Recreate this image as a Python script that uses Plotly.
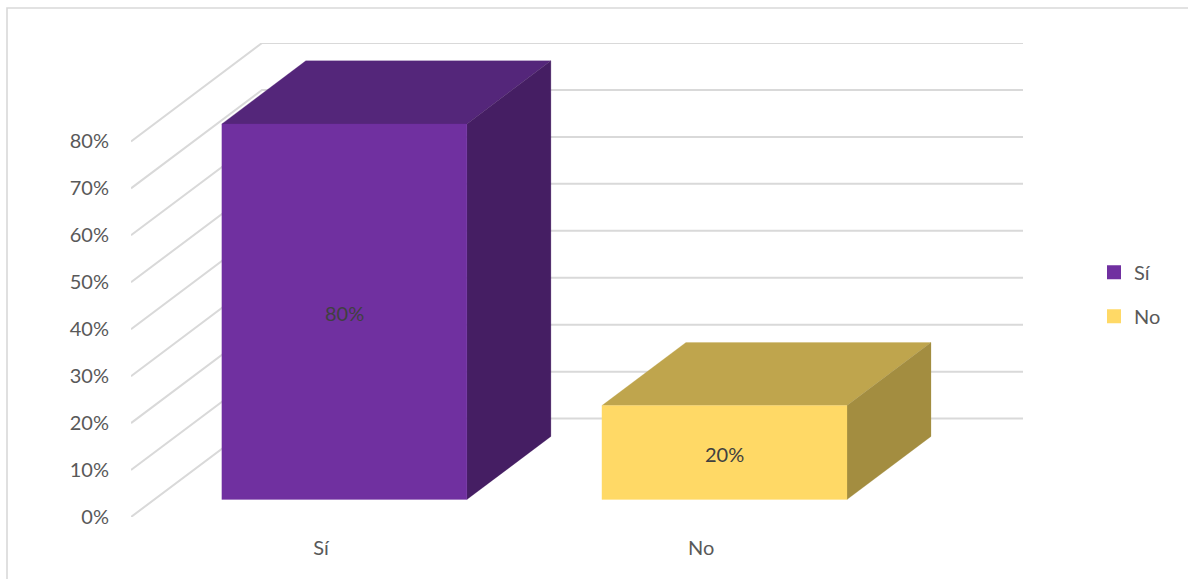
import plotly.graph_objects as go

# --- data ---
categories = ["Sí", "No"]
values = [80, 20]
value_labels = ["80%", "20%"]
tick_values = [0, 10, 20, 30, 40, 50, 60, 70, 80]
tick_labels = ["0%", "10%", "20%", "30%", "40%", "50%", "60%", "70%", "80%"]
front_colors = ["#7030A0", "#FFD966"]
top_colors = ["#54267A", "#BFA54D"]
side_colors = ["#451E63", "#A38D40"]

# --- oblique projection settings (depth z: 0 = front of the floor, 1 = back wall) ---
DEPTH_X = 131 / 380      # category units per unit of depth
DEPTH_Y = 98.5 / 4.7     # percentage points per unit of depth
Z_FRONT = 0.178
Z_BACK = 0.819
HALF_WIDTH = 0.3224
X_MIN = -0.5
X_MAX = 1.8468
Y_MAX = 80 + DEPTH_Y
TEXT = "#595959"
GRID = "#D9D9D9"
FONT = "Lato"


def project(x, y, z):
    return x + z * DEPTH_X, y + z * DEPTH_Y


def poly(points, color):
    pts = [project(*p) for p in points]
    xs = [p[0] for p in pts] + [pts[0][0]]
    ys = [p[1] for p in pts] + [pts[0][1]]
    return go.Scatter(x=xs, y=ys, mode="lines", fill="toself", fillcolor=color,
                      line=dict(color=color, width=0.25), showlegend=False,
                      hoverinfo="skip")


fig = go.Figure()

# gridlines: floor-side diagonal then back wall
for v in tick_values:
    a = project(X_MIN, v, 0)
    b = project(X_MIN, v, 1)
    fig.add_trace(go.Scatter(x=[a[0], b[0], X_MAX], y=[a[1], b[1], b[1]], mode="lines",
                             line=dict(color=GRID, width=2), showlegend=False,
                             hoverinfo="skip"))

# legend entries sit under the bar faces
for i, (cat, val) in enumerate(zip(categories, values)):
    cx, cy = project(i, val / 2, Z_FRONT)
    fig.add_trace(go.Scatter(x=[cx], y=[cy], mode="markers", name=cat,
                             legendgroup=cat,
                             marker=dict(symbol="square", size=14, color=front_colors[i]),
                             hoverinfo="skip"))

# bars
for i, val in enumerate(values):
    l, r = i - HALF_WIDTH, i + HALF_WIDTH
    fig.add_trace(poly([(l, val, Z_FRONT), (r, val, Z_FRONT), (r, val, Z_BACK), (l, val, Z_BACK)], top_colors[i]))
    fig.add_trace(poly([(r, 0, Z_FRONT), (r, val, Z_FRONT), (r, val, Z_BACK), (r, 0, Z_BACK)], side_colors[i]))
    fig.add_trace(poly([(l, 0, Z_FRONT), (r, 0, Z_FRONT), (r, val, Z_FRONT), (l, val, Z_FRONT)], front_colors[i]))

# data labels
annotations = []
for i, val in enumerate(values):
    cx, cy = project(i, val / 2, Z_FRONT)
    annotations.append(dict(x=cx, y=cy, xref="x", yref="y", text=value_labels[i], showarrow=False,
                            xshift=0, yshift=-1,
                            font=dict(family=FONT, size=20, color="#404040")))

L, R, T, B = 131, 1023, 43, 517.5
pw, ph = R - L, B - T
fig.update_layout(
    width=1188, height=579,
    margin=dict(l=L, r=1188 - R, t=T, b=579 - B, pad=0),
    paper_bgcolor="white", plot_bgcolor="white",
    font=dict(family=FONT, size=20, color=TEXT),
    annotations=annotations,
    xaxis=dict(range=[X_MIN, X_MAX], tickvals=list(range(len(categories))), ticktext=categories,
               showgrid=False, zeroline=False, showline=False, ticks="outside",
               ticklen=13, tickcolor="rgba(0,0,0,0)"),
    yaxis=dict(range=[0, Y_MAX], tickvals=tick_values, ticktext=tick_labels,
               showgrid=False, zeroline=False, showline=False, ticks="outside",
               ticklen=17, tickcolor="rgba(0,0,0,0)"),
    legend=dict(x=(1098 - L) / pw, y=1 - (253 - T) / ph, xanchor="left", yanchor="top",
                tracegroupgap=15, indentation=-4, font=dict(family=FONT, size=20, color=TEXT),
                bgcolor="rgba(0,0,0,0)"),
    shapes=[dict(type="rect", xref="paper", yref="paper",
                 x0=(7 - L) / pw, x1=(1200 - L) / pw, y0=1 - (600 - T) / ph, y1=1 - (8 - T) / ph,
                 line=dict(color=GRID, width=1.6), fillcolor="rgba(0,0,0,0)", layer="below")],
    hovermode=False,
)

fig.write_html("out.html", post_script="document.body.style.margin='0';document.body.style.overflow='hidden';",
               config={"displayModeBar": False})
